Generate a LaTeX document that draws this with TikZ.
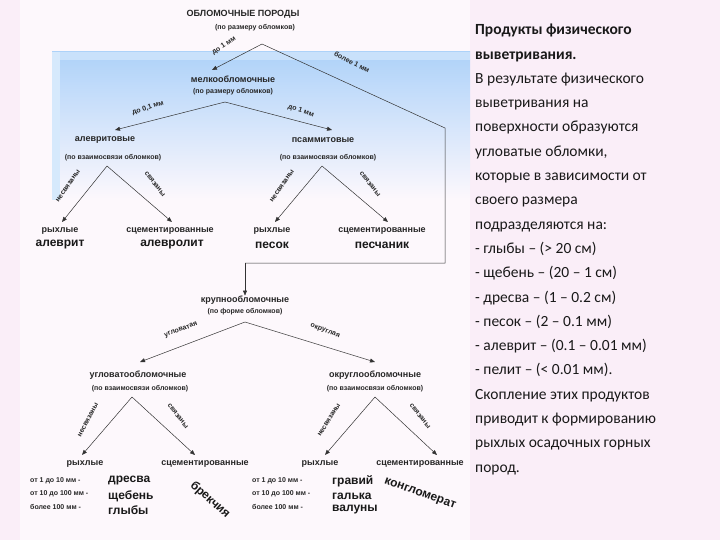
\documentclass[tikz,border=0pt]{standalone}
\usepackage{fontspec}
\setmainfont{Liberation Sans}
\newfontfamily\rt{Carlito}
\usetikzlibrary{arrows.meta}
\definecolor{bgp}{RGB}{250,238,248}
\definecolor{glow}{RGB}{120,180,245}
\tikzset{
 ar/.style={draw=black!80,line width=0.5pt,-{Triangle[length=5pt,width=4pt]}},
 ln/.style={draw=black!80,line width=0.5pt},
 sm/.style={font=\fontsize{7}{8}\selectfont\bfseries,inner sep=0pt,text=black!85},
 md/.style={font=\fontsize{9}{10}\selectfont\bfseries,inner sep=0pt,text=black!85},
 bg/.style={font=\fontsize{12}{13}\selectfont\bfseries,inner sep=0pt,text=black!90},
 lb/.style={font=\fontsize{7}{8}\selectfont\bfseries,inner sep=0pt,text=black!85},
}
\begin{document}
\begin{tikzpicture}[x=1pt,y=-1pt]
\useasboundingbox (0,0) rectangle (720,540);
\fill[bgp] (0,0) rectangle (720,540);
\fill[white!60!bgp] (20,0) rectangle (470,540);
\shade[top color=glow!60,bottom color=white!60!bgp] (52,52) rectangle (470,200);
\fill[glow!40] (52,52) rectangle (470,60);
\fill[glow!30] (52,52) rectangle (60,200);
% top
\node[md] (t1) at (243,14) {ОБЛОМОЧНЫЕ ПОРОДЫ};
\node[sm] (t2) at (255,28) {(по размеру обломков)};
\coordinate (b0) at (262,44);
\node[md] (m1) at (233,79) {мелкообломочные};
\node[sm] (m2) at (233,92) {(по размеру обломков)};
\draw[ar] (b0) -- (212,70);
\node[lb,rotate=33] at (224,46) {до 1 мм};
\coordinate (c1) at (445,128);
\coordinate (c2) at (445,263);
\coordinate (c3) at (245,263);
\draw[ln] (b0) -- (c1) -- (c2) -- (c3);
\node[lb,rotate=-27] at (352,62) {более 1 мм};
% level 2
\coordinate (b1) at (225,102);
\node[md] (a1) at (105,140) {алевритовые};
\node[sm] (a2) at (113,158) {(по взаимосвязи обломков)};
\node[md] (p1) at (323,140) {псаммитовые};
\node[sm] (p2) at (328,158) {(по взаимосвязи обломков)};
\draw[ar] (b1) -- (115,130);
\draw[ar] (b1) -- (332,130);
\node[lb,rotate=18] at (148,108) {до 0,1 мм};
\node[lb,rotate=-18] at (301,111) {до 1 мм};
% level 3 upper
\coordinate (b2) at (107,166);
\coordinate (b3) at (322,166);
\draw[ar] (b2) -- (62,222);
\draw[ar] (b2) -- (172,222);
\draw[ar] (b3) -- (275,222);
\draw[ar] (b3) -- (388,222);
\node[lb,rotate=55] at (68,186) {несвязаны};
\node[lb,rotate=-52] at (155,184) {связаны};
\node[lb,rotate=55] at (282,186) {несвязаны};
\node[lb,rotate=-52] at (370,184) {связаны};
\node[md] (r1) at (60,231) {рыхлые};
\node[bg] (r1b) at (60,245) {алеврит};
\node[md] (s1) at (170,231) {сцементированные};
\node[bg] (s1b) at (172,245) {алевролит};
\node[md] (r2) at (272,231) {рыхлые};
\node[bg] (r2b) at (272,245) {песок};
\node[md] (s2) at (382,231) {сцементированные};
\node[bg] (s2b) at (382,245) {песчаник};
% krupno
\node[md] (k1) at (245,300) {крупнообломочные};
\node[sm] (k2) at (245,312) {(по форме обломков)};
\draw[ar] (c3) -- (k1.north);
\coordinate (b4) at (245,322);
\draw[ar] (b4) -- (140,362);
\draw[ar] (b4) -- (375,362);
\node[lb,rotate=20] at (181,330) {угловатая};
\node[lb,rotate=-20] at (325,331) {округлая};
\node[md] (u1) at (138,375) {угловатообломочные};
\node[sm] (u2) at (140,389) {(по взаимосвязи обломков)};
\node[md] (o1) at (375,375) {округлообломочные};
\node[sm] (o2) at (375,389) {(по взаимосвязи обломков)};
\coordinate (b5) at (132,397);
\coordinate (b6) at (375,397);
\draw[ar] (b5) -- (82,455);
\draw[ar] (b5) -- (195,455);
\draw[ar] (b6) -- (325,455);
\draw[ar] (b6) -- (437,455);
\node[lb,rotate=62] at (88,420) {несвязаны};
\node[lb,rotate=-52] at (178,416) {связаны};
\node[lb,rotate=58] at (329,420) {несвязаны};
\node[lb,rotate=-52] at (420,416) {связаны};
\node[md] (r3) at (85,464) {рыхлые};
\node[md] (s3) at (205,464) {сцементированные};
\node[md] (r4) at (320,464) {рыхлые};
\node[md] (s4) at (420,464) {сцементированные};
\node[sm,anchor=west] (x1) at (30,481) {от 1 до 10 мм -};
\node[sm,anchor=west] (x2) at (30,494) {от 10 до 100 мм -};
\node[sm,anchor=west] (x3) at (30,507) {более 100 мм -};
\node[bg,anchor=west] (d1) at (108,481) {дресва};
\node[bg,anchor=west] (d2) at (108,496) {щебень};
\node[bg,anchor=west] (d3) at (108,510) {глыбы};
\node[bg,rotate=-42] (br) at (210,500) {брекчия};
\node[sm,anchor=west] (y1) at (252,481) {от 1 до 10 мм -};
\node[sm,anchor=west] (y2) at (252,494) {от 10 до 100 мм -};
\node[sm,anchor=west] (y3) at (252,507) {более 100 мм -};
\node[bg,anchor=west] (g1) at (332,481) {гравий};
\node[bg,anchor=west] (g2) at (332,496) {галька};
\node[bg,anchor=west] (g3) at (332,510) {валуны};
\node[bg,rotate=-20] (kg) at (420,494) {конгломерат};
% right text
\node[anchor=north west,align=left,inner sep=0pt,font=\rt\fontsize{15.5}{24.3}\selectfont,text=black!90] (rt) at (475,24) {\textbf{Продукты физического}\\ \textbf{выветривания.}\\ В результате физического\\ выветривания на\\ поверхности образуются\\ угловатые обломки,\\ которые в зависимости от\\ своего размера\\ подразделяются на:\\ - глыбы – (> 20 см)\\ - щебень – (20 – 1 см)\\ - дресва – (1 – 0.2 см)\\ - песок – (2 – 0.1 мм)\\ - алеврит – (0.1 – 0.01 мм)\\ - пелит – (< 0.01 мм).\\ Скопление этих продуктов\\ приводит к формированию\\ рыхлых осадочных горных\\ пород.};
\end{tikzpicture}
\end{document}
